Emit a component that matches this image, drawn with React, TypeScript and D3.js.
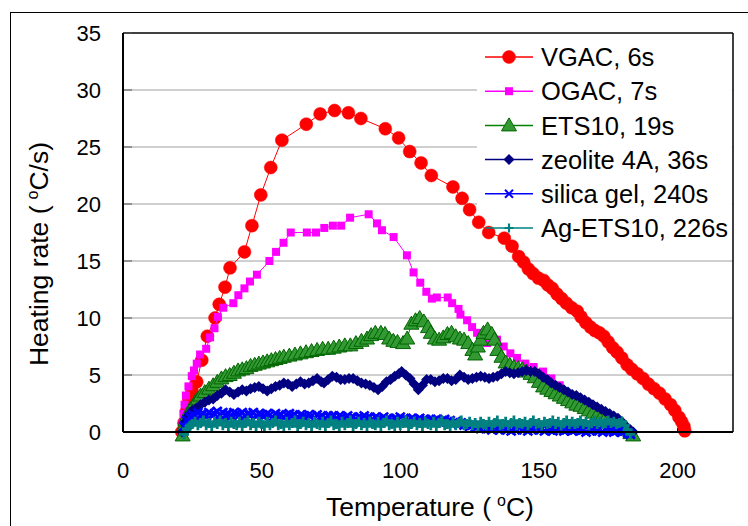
import React from "react";
import * as d3 from "d3";

// ---------- data ----------
const xTicks = [0, 50, 100, 150, 200];
const yTicks = [0, 5, 10, 15, 20, 25, 30, 35];

const vgacT = [21.2,22.0,22.9,23.8,24.9,26.6,28.4,30.4,33.2,34.7,36.8,38.6,43.8,46.5,49.7,53.3,57.3,66.1,71.1,76.3,81.3,85.8,94.6,99.4,103.4,107.5,111.2,119.0,122.3,125.0,128.3,131.9,137.5,140.3,142.7,144.5,146.2,147.9,149.8,151.7,153.2,154.8,156.5,158.2,159.9,161.8,163.8,165.2,166.9,168.6,170.2,171.8,173.4,175.0,176.6,178.2,179.9,181.8,183.5,185.5,187.5,189.5,191.5,193.5,195.5,197.5,199.0,200.5,201.5,202.3,202.6];
const vgacR = [0,0.8,1.8,2.8,3.6,4.4,6.3,8.4,10.0,11.2,12.7,14.4,15.8,18.1,20.8,23.2,25.6,27.0,27.9,28.2,28.0,27.5,26.6,25.8,24.6,23.6,22.5,21.5,20.5,19.5,18.4,17.5,17.0,16.3,15.4,14.9,14.3,13.9,13.5,13.3,12.9,12.6,12.1,11.7,11.3,10.9,10.6,10.1,9.6,9.2,8.9,8.7,8.4,7.9,7.4,7.0,6.5,5.9,5.5,5.1,4.7,4.2,3.8,3.4,2.9,2.4,1.9,1.3,0.9,0.5,0.1];

const ogacT = [21.2,21.5,21.8,22.2,22.7,23.6,24.8,25.6,26.6,27.8,30.0,31.4,33.0,34.2,36.2,39.8,41.6,43.8,45.8,48.3,52.8,55.2,57.9,60.5,66.3,69.6,72.6,75.7,78.7,81.9,88.6,91.6,93.4,97.6,102.4,104.8,107.2,109.4,111.4,113.2,117.1,118.7,121.0,121.7,124.1,125.9,127.7,131.3,134.9,137.3,139.7,142.1,145.1,148.1,151.5,154.5,157.5,161.0,164.5,168.0,171.5,175.0,178.0];
const ogacR = [0,0.8,1.6,2.4,3.2,4.0,4.9,5.4,6.0,6.8,7.3,8.3,9.1,10.1,10.9,11.3,12.0,12.6,13.2,13.8,15.0,15.8,16.6,17.5,17.5,17.5,17.9,18.1,18.1,18.8,19.1,18.3,17.7,17.1,15.5,14.0,13.1,12.3,11.7,11.8,11.8,11.3,10.8,10.3,9.8,9.2,8.7,7.8,8.1,7.5,6.9,6.5,6.0,5.7,5.3,4.7,4.1,3.3,2.5,1.8,1.1,0.5,0.1];

const etsT = [21.5,22,22.5,23.2,24,25,26,27,28,29.5,31,32.5,34,35.5,37,38.5,40,41.5,43,44.5,46,47.5,49,50.5,52,53.5,55,56.5,58,60,62,64,66,68,70,72,74,76,78,80,82,84,86,88,89.5,91,93,94.5,96,97.5,99,101,102.5,104,105.5,107,108.5,110,111,112.5,114,115.5,117,118.5,120,121.5,123,124.5,126,127,128,129,130,131.5,133,134,135,136.5,138,139.5,141,142.5,144,145.5,147,148.5,150,151.5,153,154.5,156,157.5,159,160.5,162,163.5,165,166.5,168,169.5,171,172.5,174,175.5,177,178.5,180,181.5,183,184];
const etsR = [-0.3,0.5,1.0,1.5,1.9,2.2,2.6,2.9,3.2,3.5,3.8,4.1,4.4,4.7,4.9,5.0,5.2,5.4,5.5,5.6,5.8,5.9,6.0,6.1,6.2,6.3,6.4,6.5,6.6,6.7,6.8,6.9,7.0,7.1,7.2,7.3,7.3,7.4,7.5,7.6,7.6,7.8,8.0,8.2,8.5,8.7,8.7,8.6,8.2,8.0,7.9,7.8,8.2,9.5,9.8,10.0,9.7,9.2,8.7,8.2,8.1,8.3,8.6,8.7,8.4,8.2,8.1,7.8,7.2,6.8,7.5,8.1,8.7,9.0,8.6,8.1,7.2,6.6,6.1,5.9,5.7,5.6,5.5,5.3,5.1,4.8,4.4,4.0,3.8,3.6,3.4,3.2,3.0,2.8,2.6,2.4,2.3,2.1,1.9,1.7,1.5,1.3,1.2,1.0,0.8,0.6,0.4,0.2,-0.1,-0.3];

const zeoT = [21.3,22,23,24,25,26.5,28,29.5,31,32.5,34,35.5,37,38.5,40,41.5,43,44.5,46,47.5,49,50.5,52,53.5,55,56.5,58,59.5,61,62.5,64,65.5,67,68.5,70,71.5,72.5,74,75.5,77,78.5,80,81.5,83,84.5,86,87.5,89,90.5,92,93.5,95,96.5,98,99.5,100.5,102,103.5,105,106.5,108,109.5,111,112.5,114,115.5,117,118.5,120,121.5,123,124.5,126,127.5,129,130.5,132,133.5,135,136.5,138,139.5,141,142.5,144,145.5,147,148.5,150,151.5,153,154.5,156,157.5,159,160.5,162,163.5,165,166.5,168,169.5,171,172.5,174,175.5,177,178.5,180,181.5,183,184];
const zeoR = [0,0.8,1.3,1.6,1.9,2.1,2.4,2.6,2.8,2.9,3.2,3.4,3.7,3.5,3.3,3.5,3.7,3.6,3.8,3.9,4.0,3.8,3.6,3.8,4.0,4.1,4.3,4.2,4.0,4.2,4.4,4.2,4.3,4.5,4.7,4.4,4.3,4.6,4.9,4.8,4.6,4.6,4.7,4.7,4.5,4.3,4.2,4.1,3.9,3.7,4.0,4.4,4.6,4.9,5.1,5.3,5.0,4.7,4.2,3.7,4.1,4.6,4.6,4.4,4.5,4.7,4.7,4.5,4.6,5.0,4.8,4.6,4.7,4.8,4.9,4.8,4.7,4.8,4.9,5.1,5.3,5.2,5.1,5.2,5.3,5.4,5.3,5.3,5.1,4.8,4.6,4.3,4.1,3.9,3.7,3.5,3.3,3.2,3.0,2.8,2.6,2.4,2.2,2.0,1.8,1.6,1.4,1.2,0.9,0.5,0.2,0];

const silT = [22,23,24,25,26,27,28,29,30,31,32,33,34,35,36,37,38,39,40,41,42,43,44,45,46,47,48,49,50,51,52,53,54,55,56,57,58,59,60,61,62,63,64,65,66,67,68,69,70,71,72,73,74,75,76,77,78,79,80,81,82,83,84,85,86,87,88,89,90,91,92,93,94,95,96,97,98,99,100,101,102,103,104,105,106,107,108,109,110,111,112,113,114,115,116,117,118,119,120,121,122,123,124,125,126,127,128,129,130,131,132,133,134,135,136,137,138,139,140,141,142,143,144,145,146,147,148,149,150,151,152,153,154,155,156,157,158,159,160,161,162,163,164,165,166,167,168,169,170,171,172,173,174,175,176,177,178,179,180,181,182,183];
const silR = [0.5,1.0,1.3,1.5,1.4,1.7,1.5,1.6,1.4,1.7,1.5,1.6,1.8,1.5,1.7,1.5,1.6,1.4,1.7,1.6,1.5,1.7,1.4,1.6,1.5,1.7,1.4,1.6,1.5,1.4,1.6,1.5,1.3,1.6,1.4,1.5,1.3,1.5,1.6,1.4,1.5,1.3,1.5,1.4,1.3,1.5,1.4,1.2,1.5,1.3,1.4,1.2,1.4,1.3,1.4,1.2,1.4,1.3,1.2,1.4,1.2,1.3,1.1,1.3,1.2,1.4,1.2,1.3,1.1,1.3,1.2,1.1,1.3,1.1,1.2,1.0,1.2,1.1,1.3,1.1,1.2,1.0,1.2,1.1,1.0,1.2,1.0,1.1,0.9,1.1,1.0,1.1,0.9,1.0,1.1,0.9,1.0,0.8,0.9,0.7,0.8,0.6,0.7,0.5,0.6,0.4,0.5,0.3,0.5,0.3,0.4,0.2,0.4,0.3,0.2,0.4,0.2,0.3,0.1,0.3,0.2,0.4,0.2,0.3,0.1,0.3,0.2,0.4,0.2,0.3,0.1,0.3,0.2,0.1,0.3,0.2,0.3,0.1,0.2,0.3,0.1,0.2,0.3,0.1,0.2,0.0,0.2,0.1,0.3,0.1,0.2,0.0,0.2,0.1,0.2,0.0,0.1,0.2,0.0,0.1,-0.1,-0.2];

const agT = [22,23,24,25,26,27,28,29,30,31,32,33,34,35,36,37,38,39,40,41,42,43,44,45,46,47,48,49,50,51,52,53,54,55,56,57,58,59,60,61,62,63,64,65,66,67,68,69,70,71,72,73,74,75,76,77,78,79,80,81,82,83,84,85,86,87,88,89,90,91,92,93,94,95,96,97,98,99,100,101,102,103,104,105,106,107,108,109,110,111,112,113,114,115,116,117,118,119,120,121,122,123,124,125,126,127,128,129,130,131,132,133,134,135,136,137,138,139,140,141,142,143,144,145,146,147,148,149,150,151,152,153,154,155,156,157,158,159,160,161,162,163,164,165,166,167,168,169,170,171,172,173,174,175,176,177,178,179,180,181,182,183];
const agR = [-0.2,0.3,0.5,0.7,0.9,0.6,0.8,1.0,0.6,0.8,0.5,0.9,0.7,1.0,0.6,0.8,0.5,0.9,0.7,0.6,0.9,0.5,0.8,1.0,0.6,0.8,0.5,0.9,0.7,0.5,0.9,0.6,0.8,1.0,0.6,0.7,0.5,0.9,0.6,0.8,1.0,0.5,0.7,0.9,0.6,0.8,0.5,0.9,0.7,0.6,0.9,0.5,0.8,1.0,0.6,0.7,0.5,0.9,0.6,0.8,1.0,0.5,0.7,0.9,0.6,0.8,0.5,0.9,0.7,0.6,0.9,0.5,0.8,1.0,0.6,0.7,0.5,0.9,0.6,0.8,1.0,0.5,0.7,0.9,0.6,0.8,0.5,0.9,0.7,0.6,0.9,0.5,0.8,1.0,0.6,0.7,0.5,0.9,0.6,0.8,1.0,0.6,0.7,0.9,0.6,0.8,0.5,0.9,0.7,0.6,0.9,0.6,0.8,1.0,0.6,0.7,0.9,0.6,0.8,1.0,0.6,0.8,0.7,0.9,0.6,0.8,1.0,0.7,0.8,0.6,0.9,0.7,0.8,1.0,0.7,0.9,0.6,0.8,1.0,0.7,0.9,0.7,0.8,1.0,0.7,0.9,0.6,0.8,1.0,0.7,0.9,0.7,0.8,1.0,0.8,0.9,0.7,0.8,0.9,0.6,0.2,-0.2];

const seriesNames = ["VGAC, 6s", "OGAC, 7s", "ETS10, 19s", "zeolite 4A, 36s", "silica gel, 240s", "Ag-ETS10, 226s"];
const seriesColors = ["#FF0000", "#FF00FF", "#008000", "#000080", "#0000FF", "#008080"];
const seriesKinds = ["circle", "square", "triangle", "diamond", "x", "plus"];
const seriesLineW = [1, 1, 1, 3, 3, 3];

// ---------- layout ----------
const W = 748, H = 526;
const L = 123, R = 733, T = 33, B = 432;
const FONT = "'Liberation Sans', Arial, sans-serif";

function Marker({ kind, color, x, y, legend }: { kind: string; color: string; x: number; y: number; legend?: boolean }) {
  switch (kind) {
    case "circle":
      return <circle cx={x} cy={y} r={6.5} fill={color} stroke={color} strokeWidth={0.5} />;
    case "square":
      return <rect x={x - 4} y={y - 4} width={8} height={8} fill={color} />;
    case "triangle":
      return <path d={`M${x},${y - 7.5}L${x + 7.5},${y + 5.5}L${x - 7.5},${y + 5.5}Z`} fill="#339933" stroke="#006400" strokeWidth={1} />;
    case "diamond":
      return <path d={`M${x},${y - 5.5}L${x + 5.5},${y}L${x},${y + 5.5}L${x - 5.5},${y}Z`} fill={color} />;
    case "x": {
      const s = legend ? 4 : 4.5;
      return <path d={`M${x - s},${y - s}L${x + s},${y + s}M${x - s},${y + s}L${x + s},${y - s}`} stroke={color} strokeWidth={legend ? 2 : 2.6} />;
    }
    default: {
      const s = legend ? 4.5 : 5;
      return <path d={`M${x - s},${y}L${x + s},${y}M${x},${y - s}L${x},${y + s}`} stroke={color} strokeWidth={legend ? 2.2 : 2.8} />;
    }
  }
}

export default function App() {
  const x = d3.scaleLinear().domain([0, 220]).range([L, R]);
  const y = d3.scaleLinear().domain([0, 35]).range([B, T]);
  const line = d3.line<[number, number]>().x((d) => x(d[0])).y((d) => y(d[1]));

  const allT = [vgacT, ogacT, etsT, zeoT, silT, agT];
  const allR = [vgacR, ogacR, etsR, zeoR, silR, agR];
  const series = allT.map((ts, i) => ts.map((t, j) => [t, allR[i][j]] as [number, number]));

  const legY0 = 57, legDy = 34.2;

  return (
    <svg width={W} height={H} style={{ display: "block", position: "absolute", left: 0, top: 0 }} fontFamily={FONT}>
      <rect x={0} y={0} width={W} height={H} fill="white" />
      <rect x={10.5} y={12.5} width={W + 10} height={H + 10} fill="none" stroke="#000" strokeWidth={1} />
      {/* gridlines */}
      {yTicks.filter((v) => v > 0 && v < 35).map((v) => (
        <line key={v} x1={L} x2={R} y1={y(v)} y2={y(v)} stroke="#A0A0A0" strokeWidth={1} />
      ))}
      {/* legend background */}
      <rect x={477} y={T + 1} width={R - 477 - 1} height={248 - T} fill="white" />
      {/* plot border */}
      <line x1={L} x2={R} y1={T} y2={T} stroke="#000" strokeWidth={1.5} />
      <line x1={R} x2={R} y1={T} y2={B} stroke="#000" strokeWidth={1.5} />
      {/* ticks */}
      {yTicks.map((v) => (
        <line key={"yt" + v} x1={L} x2={L + 9} y1={y(v)} y2={y(v)} stroke="#555" strokeWidth={1} />
      ))}
      {xTicks.map((v) => (
        <line key={"xt" + v} x1={x(v)} x2={x(v)} y1={B} y2={B - 4} stroke="#000" strokeWidth={1} />
      ))}
      {/* series */}
      {series.map((pts, i) => (
        <g key={i}>
          <path d={line(pts) || ""} fill="none" stroke={seriesColors[i]} strokeWidth={seriesLineW[i]} />
          {pts.map((p, j) => (
            <Marker key={j} kind={seriesKinds[i]} color={seriesColors[i]} x={x(p[0])} y={y(p[1])} />
          ))}
        </g>
      ))}
      {/* axes */}
      <line x1={L} x2={L} y1={T} y2={B} stroke="#000" strokeWidth={2} />
      <line x1={L} x2={R} y1={B} y2={B} stroke="#000" strokeWidth={2} />
      {/* tick labels */}
      {yTicks.map((v) => (
        <text key={"yl" + v} x={101} y={y(v)} dy="0.36em" textAnchor="end" fontSize={22}>{v}</text>
      ))}
      {xTicks.map((v) => (
        <text key={"xl" + v} x={x(v)} y={470} dy="0.36em" textAnchor="middle" fontSize={22}>{v}</text>
      ))}
      {/* axis titles */}
      <text x={430} y={516} textAnchor="middle" fontSize={26.5}>
        Temperature (<tspan dx={6} dy={-10} fontSize={16}>o</tspan><tspan dy={10}>C)</tspan>
      </text>
      <text transform={`translate(48,${254}) rotate(-90)`} textAnchor="middle" fontSize={26.5}>
        Heating rate (<tspan dx={6} dy={-10} fontSize={16}>o</tspan><tspan dy={10}>C/s)</tspan>
      </text>
      {/* legend */}
      {seriesNames.map((name, i) => {
        const ly = legY0 + i * legDy;
        return (
          <g key={"lg" + i}>
            <line x1={485} x2={533} y1={ly} y2={ly} stroke={seriesColors[i]} strokeWidth={1.5} />
            <Marker kind={seriesKinds[i]} color={seriesColors[i]} x={509} y={ly} legend />
            <text x={541} y={ly} dy="0.36em" fontSize={25.5}>{name}</text>
          </g>
        );
      })}
    </svg>
  );
}
